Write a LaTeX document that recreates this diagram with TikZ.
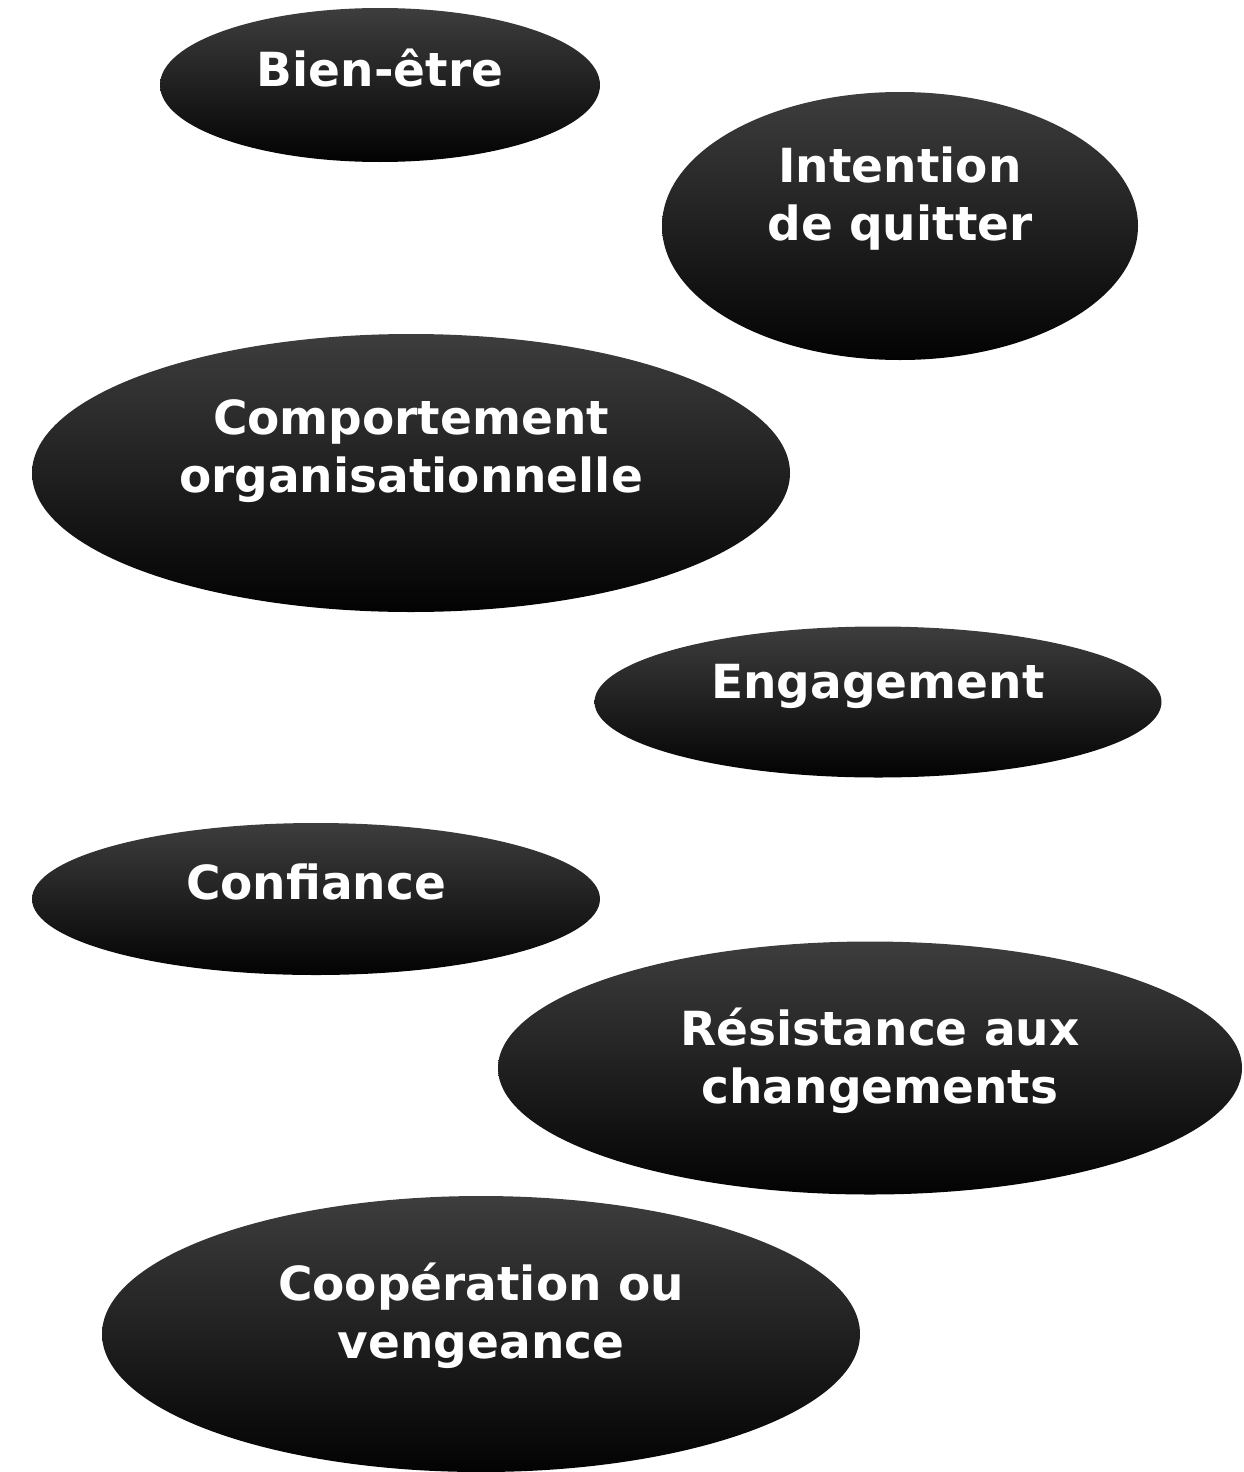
\documentclass[tikz,border=0pt]{standalone}
\usepackage{fontspec}
\setmainfont{DejaVu Sans}
\usetikzlibrary{shapes.geometric}
\tikzset{
	oval/.style={ellipse, inner sep=0pt, top color=black!76, bottom color=black!99, draw=none},
	txt/.style={text=white, font=\fontsize{23.5}{29}\selectfont\bfseries, align=center}
}

\begin{document}
\begin{tikzpicture}[x=0.5pt, y=-0.5pt]
			%%%%% START %%%%%
			
			\useasboundingbox (0, 0) rectangle (1243, 1472);
			
			\node[oval, minimum width=220pt, minimum height=77pt] (bien) at (380, 85) {};
			\node[txt] (bienT) at (380, 68) {Bien-être};
			
			\node[oval, minimum width=238pt, minimum height=134pt] (quitter) at (900, 226) {};
			\node[txt] (quitterT) at (900, 199) {Intention\\de quitter};
			
			\node[oval, minimum width=379pt, minimum height=139pt] (comport) at (411, 473) {};
			\node[txt] (comportT) at (411, 451) {Comportement\\organisationnelle};
			
			\node[oval, minimum width=283.5pt, minimum height=75.5pt] (engag) at (878, 702) {};
			\node[txt] (engagT) at (878, 686) {Engagement};
			
			\node[oval, minimum width=284pt, minimum height=76pt] (confi) at (316, 899) {};
			\node[txt] (confiT) at (316, 882) {Confiance};
			
			\node[oval, minimum width=372pt, minimum height=126.5pt] (resist) at (870, 1068) {};
			\node[txt] (resistT) at (880, 1061) {Résistance aux\\changements};
			
			\node[oval, minimum width=379pt, minimum height=138pt] (coop) at (481, 1334) {};
			\node[txt] (coopT) at (481, 1316) {Coopération ou\\vengeance};
			
			%%%%% END %%%%%
\end{tikzpicture}
\end{document}
